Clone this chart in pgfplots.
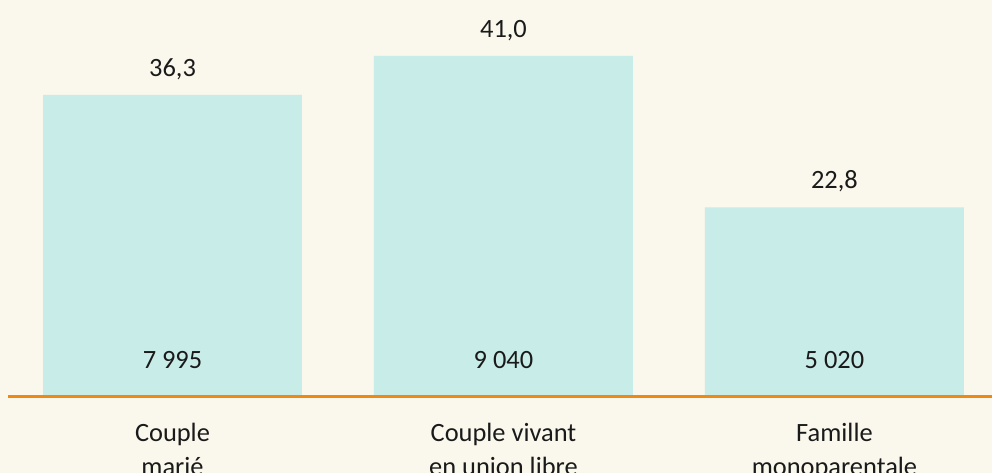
\documentclass[border=0pt]{standalone}
\usepackage{pgfplots}
\pgfplotsset{compat=1.18}
\usepackage{fontspec}
\setmainfont{Carlito}
\definecolor{bg}{HTML}{FAF7EC}
\definecolor{barc}{HTML}{C8ECE8}
\definecolor{orangeline}{HTML}{EE8A14}
\definecolor{txt}{HTML}{1A1A1A}
\begin{document}
\begin{tikzpicture}[x=1bp,y=1bp]
\fill[bg] (0,0) rectangle (992,473);
\begin{scope}
\clip (0,0) rectangle (992,473);
\begin{axis}[
  at={(8bp,76bp)}, anchor=south west,
  scale only axis, width=984bp, height=397bp,
  xmin=-0.497, xmax=2.476, ymin=0, ymax=47.72,
  axis x line=bottom, axis y line=none,
  axis on top,
  x axis line style={draw=orangeline, line width=3bp, -},
  xtick={0,1,2},
  xticklabels={{Couple\\marié},{Couple vivant\\en union libre},{Famille\\monoparentale}},
  major tick length=0pt,
  xticklabel style={align=center, anchor=base, yshift=-79bp, font=\fontsize{26.5}{35}\selectfont, text=txt},
  ybar, bar width=0.7825,
  clip=false,
  /pgf/number format/assume math mode=true,
  nodes near coords={\pgfmathprintnumber[fixed,fixed zerofill,precision=1,use comma]{\pgfplotspointmeta}},
  point meta=y,
  every node near coord/.append style={font=\fontsize{26.5}{32}\selectfont, text=txt, anchor=base, yshift=18.5bp},
]
\addplot[fill=barc, draw=none] coordinates {(0,36.3) (1,41.0) (2,22.8)};
\node[font=\fontsize{26.5}{32}\selectfont, text=txt, anchor=base] at (axis cs:0,3.43) {7 995};
\node[font=\fontsize{26.5}{32}\selectfont, text=txt, anchor=base] at (axis cs:1,3.43) {9 040};
\node[font=\fontsize{26.5}{32}\selectfont, text=txt, anchor=base] at (axis cs:2,3.43) {5 020};
\end{axis}
\end{scope}
\pgfresetboundingbox
\path[use as bounding box] (0,0) rectangle (992,473);
\end{tikzpicture}
\end{document}
